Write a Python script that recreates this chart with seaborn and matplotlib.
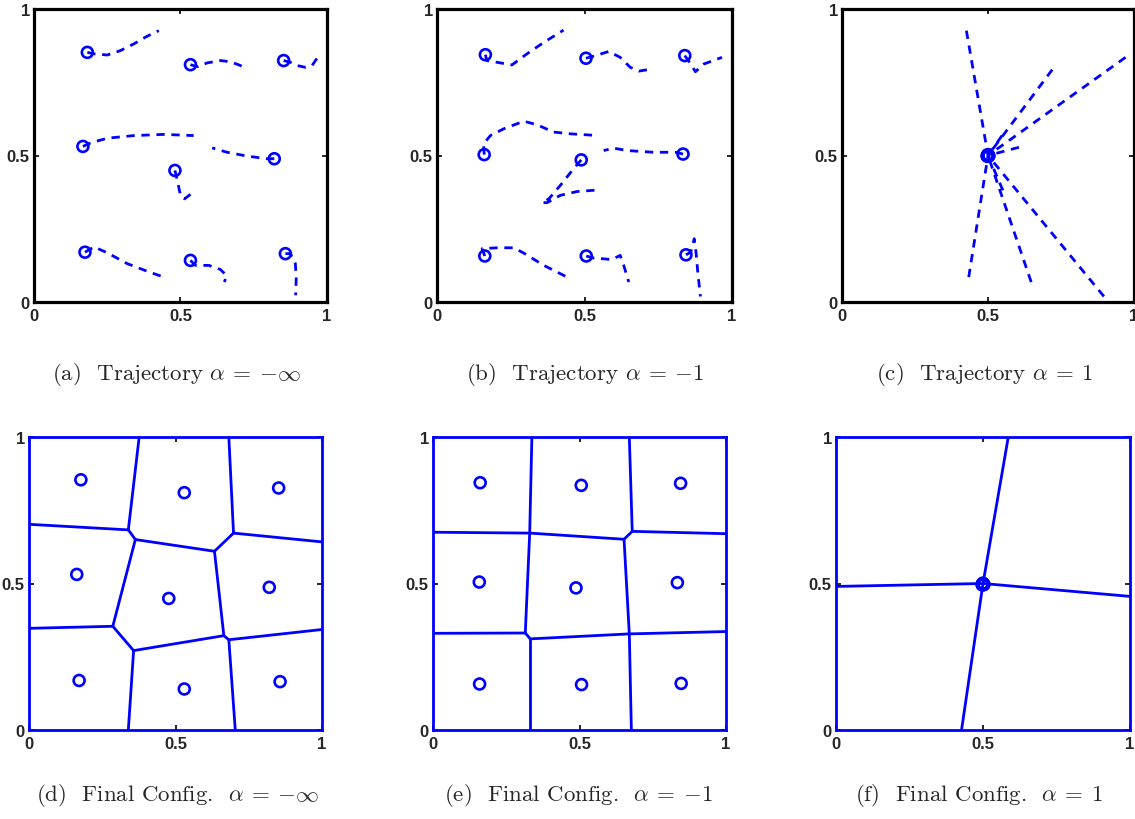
import numpy as np
import pandas as pd
import matplotlib
matplotlib.use("Agg")
import matplotlib.pyplot as plt
import seaborn as sns

# ---------------- DATA ----------------
# Panel (a): trajectories (first point = final position, marked with a circle)
traj_a_x = [
    [0.182, 0.205, 0.25, 0.295, 0.341, 0.386, 0.426],
    [0.534, 0.557, 0.591, 0.636, 0.67, 0.705, 0.724],
    [0.852, 0.875, 0.898, 0.926, 0.949, 0.966],
    [0.167, 0.193, 0.25, 0.341, 0.443, 0.545],
    [0.820, 0.795, 0.727, 0.659, 0.608],
    [0.481, 0.489, 0.5, 0.514, 0.551],
    [0.174, 0.205, 0.25, 0.318, 0.386, 0.443],
    [0.534, 0.551, 0.597, 0.636, 0.657, 0.65],
    [0.858, 0.875, 0.892, 0.895, 0.893],
]
traj_a_y = [
    [0.852, 0.847, 0.843, 0.858, 0.881, 0.907, 0.926],
    [0.810, 0.803, 0.816, 0.824, 0.820, 0.807, 0.793],
    [0.824, 0.818, 0.807, 0.801, 0.807, 0.832],
    [0.531, 0.543, 0.559, 0.568, 0.572, 0.568],
    [0.489, 0.489, 0.498, 0.511, 0.526],
    [0.449, 0.415, 0.364, 0.352, 0.381],
    [0.170, 0.188, 0.168, 0.131, 0.105, 0.085],
    [0.142, 0.125, 0.125, 0.111, 0.091, 0.068],
    [0.165, 0.165, 0.131, 0.080, 0.023],
]

# Panel (b)
traj_b_x = [
    [0.164, 0.169, 0.215, 0.254, 0.305, 0.362, 0.429],
    [0.505, 0.531, 0.582, 0.621, 0.655, 0.684, 0.715],
    [0.840, 0.856, 0.876, 0.904, 0.966],
    [0.160, 0.158, 0.181, 0.226, 0.294, 0.339, 0.395, 0.452, 0.548],
    [0.834, 0.808, 0.734, 0.644, 0.599, 0.565],
    [0.489, 0.463, 0.418, 0.379, 0.356, 0.373, 0.418, 0.475, 0.554],
    [0.162, 0.153, 0.203, 0.260, 0.294, 0.362, 0.441],
    [0.506, 0.531, 0.593, 0.621, 0.633, 0.650],
    [0.844, 0.860, 0.872, 0.878, 0.884, 0.893],
]
traj_b_y = [
    [0.844, 0.824, 0.816, 0.809, 0.847, 0.886, 0.928],
    [0.832, 0.839, 0.855, 0.835, 0.801, 0.788, 0.793],
    [0.841, 0.818, 0.786, 0.812, 0.835],
    [0.503, 0.540, 0.568, 0.591, 0.617, 0.605, 0.580, 0.574, 0.568],
    [0.505, 0.511, 0.511, 0.517, 0.525, 0.517],
    [0.485, 0.455, 0.398, 0.352, 0.339, 0.339, 0.364, 0.377, 0.383],
    [0.157, 0.182, 0.185, 0.185, 0.167, 0.125, 0.085],
    [0.157, 0.150, 0.145, 0.159, 0.125, 0.068],
    [0.161, 0.170, 0.216, 0.170, 0.102, 0.019],
]

# Panel (c): straight trajectories from start points to the common final point
c_start_x = [0.426, 0.720, 0.971, 0.548, 0.606, 0.551, 0.434, 0.648, 0.897]
c_start_y = [0.926, 0.793, 0.835, 0.568, 0.528, 0.381, 0.085, 0.068, 0.019]
c_final_x = [0.497, 0.500, 0.502, 0.499, 0.501, 0.498, 0.500, 0.503, 0.499]
c_final_y = [0.499, 0.501, 0.498, 0.502, 0.500, 0.497, 0.503, 0.499, 0.500]

# Panel (d): generators and Voronoi cells
d_gen_x = [0.177, 0.530, 0.852, 0.163, 0.477, 0.820, 0.171, 0.530, 0.857]
d_gen_y = [0.854, 0.810, 0.826, 0.531, 0.449, 0.487, 0.169, 0.140, 0.165]
d_vert_x = [0.376, 0.682, 0.0, 0.0, 1.0, 1.0, 0.339, 0.704,
            0.339, 0.363, 0.633, 0.698, 0.286, 0.357, 0.665, 0.682]
d_vert_y = [1.0, 1.0, 0.702, 0.347, 0.642, 0.343, 0.0, 0.0,
            0.683, 0.650, 0.610, 0.672, 0.354, 0.271, 0.322, 0.308]
d_edges = [(0, 8), (2, 8), (8, 9), (9, 10), (10, 11), (11, 1), (11, 4), (9, 12),
           (3, 12), (12, 13), (13, 14), (10, 14), (14, 15), (15, 5), (13, 6), (15, 7)]

# Panel (e)
e_gen_x = [0.161, 0.506, 0.845, 0.158, 0.488, 0.834, 0.159, 0.507, 0.847]
e_gen_y = [0.844, 0.835, 0.842, 0.505, 0.485, 0.503, 0.157, 0.155, 0.159]
e_vert_x = [0.3375, 0.670, 0.0, 0.0, 1.0, 1.0, 0.332, 0.677,
            0.330, 0.652, 0.680, 0.315, 0.332, 0.670]
e_vert_y = [1.0, 1.0, 0.675, 0.330, 0.670, 0.336, 0.0, 0.0,
            0.672, 0.651, 0.678, 0.331, 0.311, 0.328]
e_edges = [(0, 8), (2, 8), (8, 9), (9, 10), (10, 1), (10, 4), (8, 11), (3, 11),
           (11, 12), (12, 13), (9, 13), (13, 5), (12, 6), (13, 7)]

# Panel (f)
f_gen_x = [0.497, 0.500, 0.502, 0.499, 0.501, 0.498, 0.500, 0.503, 0.499]
f_gen_y = [0.497, 0.499, 0.496, 0.500, 0.498, 0.495, 0.501, 0.497, 0.498]
f_vert_x = [0.500, 0.586, 0.427, 0.0, 1.0]
f_vert_y = [0.500, 1.0, 0.0, 0.490, 0.456]
f_edges = [(0, 1), (0, 2), (0, 3), (0, 4)]

tick_vals = [0, 0.5, 1]
tick_labels = ["0", "0.5", "1"]
captions = [
    r"(a)  Trajectory $\alpha \:=\: {-}\infty$",
    r"(b)  Trajectory $\alpha \:=\: {-}1$",
    r"(c)  Trajectory $\alpha \:=\: 1$",
    r"(d)  Final Config.  $\alpha \:=\: {-}\infty$",
    r"(e)  Final Config.  $\alpha \:=\: {-}1$",
    r"(f)  Final Config.  $\alpha \:=\: 1$",
]

# ---------------- STYLE ----------------
sns.set_style("white")
plt.rcParams["mathtext.fontset"] = "cm"
plt.rcParams["axes.unicode_minus"] = True

W, H = 1135, 820
fig = plt.figure(figsize=(W / 100, H / 100), dpi=100)

# axes boxes in pixels: (left, top, width)
boxes = [(34, 10, 293), (437, 10, 295), (842, 10, 292),
         (29, 438, 293), (433, 438, 293), (836, 438, 294)]
axes = []
for (l, t, s) in boxes:
    ax = fig.add_axes([l / W, 1 - (t + 293) / H, s / W, 293 / H])
    axes.append(ax)

BLUE = "#0000ff"
DASH = (0, (3.0, 2.4))


def traj_frame(xs, ys):
    rows = []
    for i, (xx, yy) in enumerate(zip(xs, ys)):
        for k, (x, y) in enumerate(zip(xx, yy)):
            rows.append((i, k, x, y))
    return pd.DataFrame(rows, columns=["unit", "order", "x", "y"])


def edge_frame(vx, vy, edges):
    rows = []
    for i, (p, q) in enumerate(edges):
        rows.append((i, 0, vx[p], vy[p]))
        rows.append((i, 1, vx[q], vy[q]))
    return pd.DataFrame(rows, columns=["unit", "order", "x", "y"])


def style_axes(ax, spine_color, spine_lw):
    ax.set_xlim(0, 1)
    ax.set_ylim(0, 1)
    ax.set_xticks(tick_vals)
    ax.set_yticks(tick_vals)
    ax.set_xticklabels(tick_labels, fontweight="bold", fontsize=12,
                       family="Liberation Sans")
    ax.set_yticklabels(tick_labels, fontweight="bold", fontsize=12,
                       family="Liberation Sans")
    ax.tick_params(direction="in", length=3.5, width=1.2, top=True, right=True,
                   color="black", pad=3, bottom=True, left=True)
    ax.tick_params(axis="x", pad=4)
    for sp in ax.spines.values():
        sp.set_color(spine_color)
        sp.set_linewidth(spine_lw)
        sp.set_visible(True)
    ax.set_xlabel("")
    ax.set_ylabel("")
    ax.set_facecolor("white")


def draw_circles(ax, xs, ys):
    sns.scatterplot(x=xs, y=ys, ax=ax, s=62, marker="o", facecolors="none",
                    edgecolor=BLUE, linewidth=1.9, zorder=4, legend=False)


# Top row: trajectories
for ax, xs, ys in [(axes[0], traj_a_x, traj_a_y), (axes[1], traj_b_x, traj_b_y)]:
    df = traj_frame(xs, ys)
    sns.lineplot(data=df, x="x", y="y", units="unit", estimator=None, sort=False,
                 ax=ax, color=BLUE, linewidth=2.0, linestyle=DASH, legend=False)
    draw_circles(ax, [t[0] for t in xs], [t[0] for t in ys])

c_x = [[sx, 0.5] for sx in c_start_x]
c_y = [[sy, 0.5] for sy in c_start_y]
df_c = traj_frame(c_x, c_y)
sns.lineplot(data=df_c, x="x", y="y", units="unit", estimator=None, sort=False,
             ax=axes[2], color=BLUE, linewidth=2.0, linestyle=DASH, legend=False)
draw_circles(axes[2], c_final_x, c_final_y)

for ax in axes[:3]:
    style_axes(ax, "black", 2.3)

# Bottom row: Voronoi
for ax, gx, gy, vx, vy, ed in [(axes[3], d_gen_x, d_gen_y, d_vert_x, d_vert_y, d_edges),
                               (axes[4], e_gen_x, e_gen_y, e_vert_x, e_vert_y, e_edges),
                               (axes[5], f_gen_x, f_gen_y, f_vert_x, f_vert_y, f_edges)]:
    df = edge_frame(vx, vy, ed)
    sns.lineplot(data=df, x="x", y="y", units="unit", estimator=None, sort=False,
                 ax=ax, color=BLUE, linewidth=2.0, legend=False)
    draw_circles(ax, gx, gy)
    style_axes(ax, BLUE, 2.0)

# Captions
cap_pos = [(176, 380), (585, 380), (985, 380), (178, 801), (578, 801), (979, 801)]
for (cx, cy), txt in zip(cap_pos, captions):
    fig.text(cx / W, 1 - cy / H, txt, ha="center", va="baseline",
             fontsize=16.5, family="cmr10")

fig.savefig("out.png", dpi=100)
